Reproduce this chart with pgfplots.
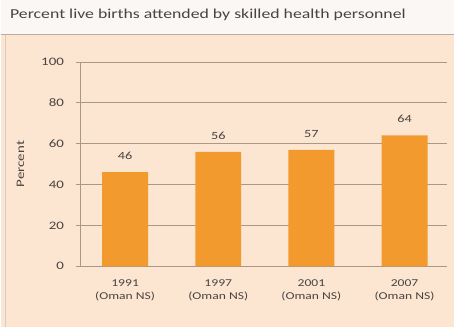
\documentclass[border=0pt]{standalone}
\usepackage{pgfplots}
\pgfplotsset{compat=1.18}
\usepackage{fontspec}
\setmainfont[FakeStretch=1.3]{Carlito}
\definecolor{barorange}{HTML}{F39A2E}
\definecolor{peach}{HTML}{FCE5D1}
\definecolor{headbg}{HTML}{FAF7F4}
\definecolor{gridc}{HTML}{A89888}
\definecolor{txt}{HTML}{4A4440}
\begin{document}
\begin{tikzpicture}[x=1pt,y=1pt]
% page background: header strip and peach panel
\fill[headbg] (0,0) rectangle (455,328);
\fill[peach] (0,0) rectangle (455,293);
\draw[gridc!80,line width=1.2pt] (0,293) -- (455,293);
\draw[gridc!50,line width=0.8pt] (4.5,0) -- (4.5,293);
\node[anchor=west,text=txt,font=\fontsize{13.7}{15}\selectfont] at (6,313) {Percent live births attended by skilled health personnel};
\begin{axis}[
  at={(80pt,61pt)}, anchor=south west,
  scale only axis, width=368pt, height=205pt,
  xmin=-0.48, xmax=3.46, ymin=0, ymax=100,
  ytick={0,20,...,100},
  xtick={0,1,2,3},
  xticklabels={1991\\(Oman NS),1997\\(Oman NS),2001\\(Oman NS),2007\\(Oman NS)},
  xticklabel style={align=center,font=\fontsize{10.5}{13}\selectfont,text=txt,yshift=-6pt},
  yticklabel style={font=\fontsize{11.5}{13}\selectfont,text=txt,xshift=-9pt},
  /pgf/number format/assume math mode=true,
  xtick style={draw=none},
  tick align=outside, major tick length=4pt,
  ytick style={gridc,line width=0.6pt},
  ymajorgrids, grid style={gridc,line width=0.6pt},
  axis x line*=bottom, axis y line*=left,
  axis line style={gridc,line width=0.8pt},
  ylabel={Percent},
  ylabel style={font=\fontsize{11.5}{13}\selectfont,text=txt,at={(axis description cs:-0.163,0.5)},anchor=center},
  nodes near coords,
  nodes near coords style={font=\fontsize{11}{13}\selectfont,text=txt,yshift=9pt},
  clip=false,
]
\addplot[ybar, bar width=46pt, fill=barorange, draw=none] coordinates {(0,46) (1,56) (2,57) (3,64)};
\end{axis}
\end{tikzpicture}
\end{document}
